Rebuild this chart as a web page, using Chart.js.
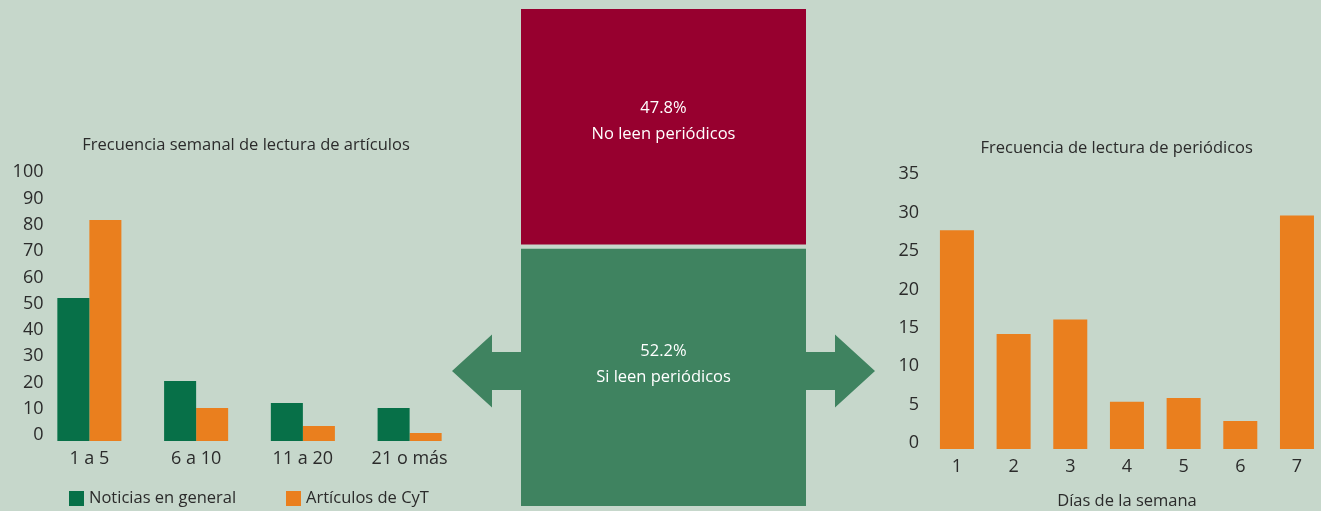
<!DOCTYPE html>
<html>
<head>
<meta charset="utf-8">
<script src="https://cdn.jsdelivr.net/npm/chart.js@4.4.1/dist/chart.umd.min.js"></script>
<style>
  html, body { margin: 0; padding: 0; width: 1321px; height: 511px; overflow: hidden; background: #C6D7CB; }
  #wrap { position: relative; width: 1321px; height: 511px; overflow: hidden; }
  canvas { position: absolute; top: 0; }
  #left { left: 0; }
  #right { left: 880px; }
  #mid { left: 440px; }
</style>
</head>
<body>
<div id="wrap">
  <canvas id="left" width="470" height="511"></canvas>
  <canvas id="right" width="450" height="511"></canvas>
  <canvas id="mid" width="450" height="511"></canvas>
</div>
<script>
// ---------- DATA ----------
const leftTitle = 'Frecuencia semanal de lectura de artículos';
const leftCategories = ['1 a 5', '6 a 10', '11 a 20', '21 o más'];
const leftSeriesNames = ['Noticias en general', 'Artículos de CyT'];
const noticiasGeneral = [53.3, 21.7, 13.3, 11.4];
const articulosCyT = [83.0, 11.4, 4.6, 1.9];
const leftTicks = [0, 10, 20, 30, 40, 50, 60, 70, 80, 90, 100];

const readerCategories = ['Si leen periódicos', 'No leen periódicos'];
const readerShares = [52.2, 47.8];

const rightTitle = 'Frecuencia de lectura de periódicos';
const rightAxisTitle = 'Días de la semana';
const dayCategories = ['1', '2', '3', '4', '5', '6', '7'];
const dayShares = [27.7, 14.2, 16.1, 5.4, 5.9, 2.9, 29.6];
const rightTicks = [0, 5, 10, 15, 20, 25, 30, 35];

// ---------- STYLE ----------
const BG = '#C6D7CB';
const TEXT = '#2B2B2B';
const DARK_GREEN = '#077048';
const ORANGE = '#EA7F1E';
const RED = '#97002F';
const MID_GREEN = '#3F8360';
const FONT = "'Open Sans', 'Noto Sans', sans-serif";
const TICK_SIZE = 18;
const LABEL_SIZE = 16.5;
const TEXT_WEIGHT = 500;

Chart.defaults.font.family = FONT;
Chart.defaults.color = TEXT;

function textWidth(str, size) {
  const c = document.createElement('canvas').getContext('2d');
  c.font = 'normal ' + size + 'px ' + FONT;
  return c.measureText(str).width;
}
function widestOf(list, size) {
  return Math.max.apply(null, list.map(v => textWidth(String(v), size)));
}

// custom legend (bottom, fixed positions like the reference)
const leftLegendPlugin = {
  id: 'leftLegend',
  afterDraw(chart) {
    const ctx = chart.ctx;
    const boxX = [69, 286];
    ctx.save();
    ctx.font = TEXT_WEIGHT + ' ' + LABEL_SIZE + 'px ' + FONT;
    ctx.textBaseline = 'middle';
    ctx.textAlign = 'left';
    chart.data.datasets.forEach((ds, i) => {
      ctx.fillStyle = ds.backgroundColor;
      ctx.fillRect(boxX[i], 491, 15, 15);
      ctx.fillStyle = TEXT;
      ctx.fillText(ds.label, boxX[i] + 20, 498.5);
    });
    ctx.restore();
  }
};

// ---------- LEFT CHART ----------
const leftBase = -1.14;
const leftAxisRight = 36;
new Chart(document.getElementById('left'), {
  type: 'bar',
  data: {
    labels: leftCategories,
    datasets: [
      { label: leftSeriesNames[0], data: noticiasGeneral, backgroundColor: DARK_GREEN, borderColor: DARK_GREEN, borderWidth: 0 },
      { label: leftSeriesNames[1], data: articulosCyT, backgroundColor: ORANGE, borderColor: ORANGE, borderWidth: 0 }
    ].map(d => Object.assign(d, { base: leftBase, barPercentage: 1, categoryPercentage: 0.6 }))
  },
  options: {
    responsive: false,
    animation: false,
    layout: { padding: { left: 29, right: 7, top: 0, bottom: 0 } },
    scales: {
      x: {
        grid: { display: false, drawTicks: false }, border: { display: false },
        ticks: { font: { size: TICK_SIZE }, color: TEXT, padding: 7.5, maxRotation: 0 },
        afterFit: s => { s.height = 70; }
      },
      y: {
        min: leftBase, max: 100, bounds: 'data',
        grid: { display: false, drawTicks: false }, border: { display: false },
        ticks: { font: { size: TICK_SIZE }, color: TEXT, mirror: true, crossAlign: 'far',
                 padding: 43.5 - leftAxisRight - widestOf(leftTicks, TICK_SIZE), labelOffset: -3, autoSkip: false },
        afterBuildTicks: s => { s.ticks = leftTicks.map(v => ({ value: v })); },
        afterFit: s => { s.width = 7; }
      }
    },
    plugins: {
      title: { display: true, text: leftTitle, font: { size: LABEL_SIZE, weight: TEXT_WEIGHT }, color: TEXT, padding: { top: 135.1, bottom: 20.4 } },
      legend: { display: false },
      tooltip: { enabled: false }
    }
  },
  plugins: [leftLegendPlugin]
});

// ---------- MIDDLE (stacked share bar with arrows) ----------
const midLabelsPlugin = {
  id: 'midLabels',
  afterDatasetsDraw(chart) {
    const ctx = chart.ctx;
    const green = chart.getDatasetMeta(0).data[0];
    const red = chart.getDatasetMeta(1).data[0];
    const arrowY = (green.y + green.base) / 2 - 5.3;
    const leftEdge = green.x - green.width / 2;
    const rightEdge = green.x + green.width / 2;
    const shaft = 29, head = 40, shaftHalf = 19, headHalf = 36.5;
    ctx.save();
    ctx.fillStyle = MID_GREEN;
    [[leftEdge, -1], [rightEdge, 1]].forEach(([edge, dir]) => {
      ctx.beginPath();
      ctx.moveTo(edge, arrowY - shaftHalf);
      ctx.lineTo(edge + dir * shaft, arrowY - shaftHalf);
      ctx.lineTo(edge + dir * shaft, arrowY - headHalf);
      ctx.lineTo(edge + dir * (shaft + head), arrowY);
      ctx.lineTo(edge + dir * shaft, arrowY + headHalf);
      ctx.lineTo(edge + dir * shaft, arrowY + shaftHalf);
      ctx.lineTo(edge, arrowY + shaftHalf);
      ctx.closePath();
      ctx.fill();
    });
    ctx.fillStyle = '#FFFFFF';
    ctx.font = 'normal ' + LABEL_SIZE + 'px ' + FONT;
    ctx.textAlign = 'center';
    ctx.textBaseline = 'middle';
    const redCenter = (red.y + red.base) / 2 - 6;
    ctx.fillText(readerShares[1].toFixed(1) + '%', red.x, redCenter - 13);
    ctx.fillText(readerCategories[1], red.x, redCenter + 13);
    const greenCenter = arrowY - 6.5;
    ctx.fillText(readerShares[0].toFixed(1) + '%', green.x, greenCenter - 13);
    ctx.fillText(readerCategories[0], green.x, greenCenter + 13);
    ctx.restore();
  }
};

new Chart(document.getElementById('mid'), {
  type: 'bar',
  data: {
    labels: [''],
    datasets: [
      { label: readerCategories[0], data: [readerShares[0]], backgroundColor: MID_GREEN, borderColor: BG, borderWidth: { top: 2.5 } },
      { label: readerCategories[1], data: [readerShares[1]], backgroundColor: RED, borderColor: BG, borderWidth: { bottom: 2.5 } }
    ].map(d => Object.assign(d, { borderSkipped: false, barPercentage: 1, categoryPercentage: 1 }))
  },
  options: {
    responsive: false,
    animation: false,
    layout: { padding: { left: 81, right: 84, top: 9, bottom: 5 } },
    scales: {
      x: { display: false, stacked: true },
      y: { display: false, stacked: true, min: 0, max: 100 }
    },
    plugins: { legend: { display: false }, tooltip: { enabled: false } }
  },
  plugins: [midLabelsPlugin]
});

// ---------- RIGHT CHART ----------
const rightBase = -0.74;
const rightAxisRight = 48.6;
new Chart(document.getElementById('right'), {
  type: 'bar',
  data: {
    labels: dayCategories,
    datasets: [
      { label: rightTitle, data: dayShares, backgroundColor: ORANGE, borderColor: ORANGE, borderWidth: 0,
        base: rightBase, barPercentage: 0.6, categoryPercentage: 1 }
    ]
  },
  options: {
    responsive: false,
    animation: false,
    layout: { padding: { left: 28.1, right: 4.7, top: 0, bottom: 0 } },
    scales: {
      x: {
        grid: { display: false, drawTicks: false }, border: { display: false },
        ticks: { font: { size: TICK_SIZE }, color: TEXT, padding: 7.5, maxRotation: 0 },
        title: { display: true, text: rightAxisTitle, font: { size: LABEL_SIZE, weight: TEXT_WEIGHT }, color: TEXT, padding: { top: 0, bottom: 0 } },
        afterFit: s => { s.height = 62; }
      },
      y: {
        min: rightBase, max: 35, bounds: 'data',
        grid: { display: false, drawTicks: false }, border: { display: false },
        ticks: { font: { size: TICK_SIZE }, color: TEXT, mirror: true, crossAlign: 'far',
                 padding: 39 - rightAxisRight - widestOf(rightTicks, TICK_SIZE), autoSkip: false },
        afterBuildTicks: s => { s.ticks = rightTicks.map(v => ({ value: v })); },
        afterFit: s => { s.width = 20.5; }
      }
    },
    plugins: {
      title: { display: true, text: rightTitle, font: { size: LABEL_SIZE, weight: TEXT_WEIGHT }, color: TEXT, padding: { top: 138.4, bottom: 15.8 } },
      legend: { display: false },
      tooltip: { enabled: false }
    }
  }
});
</script>
</body>
</html>
